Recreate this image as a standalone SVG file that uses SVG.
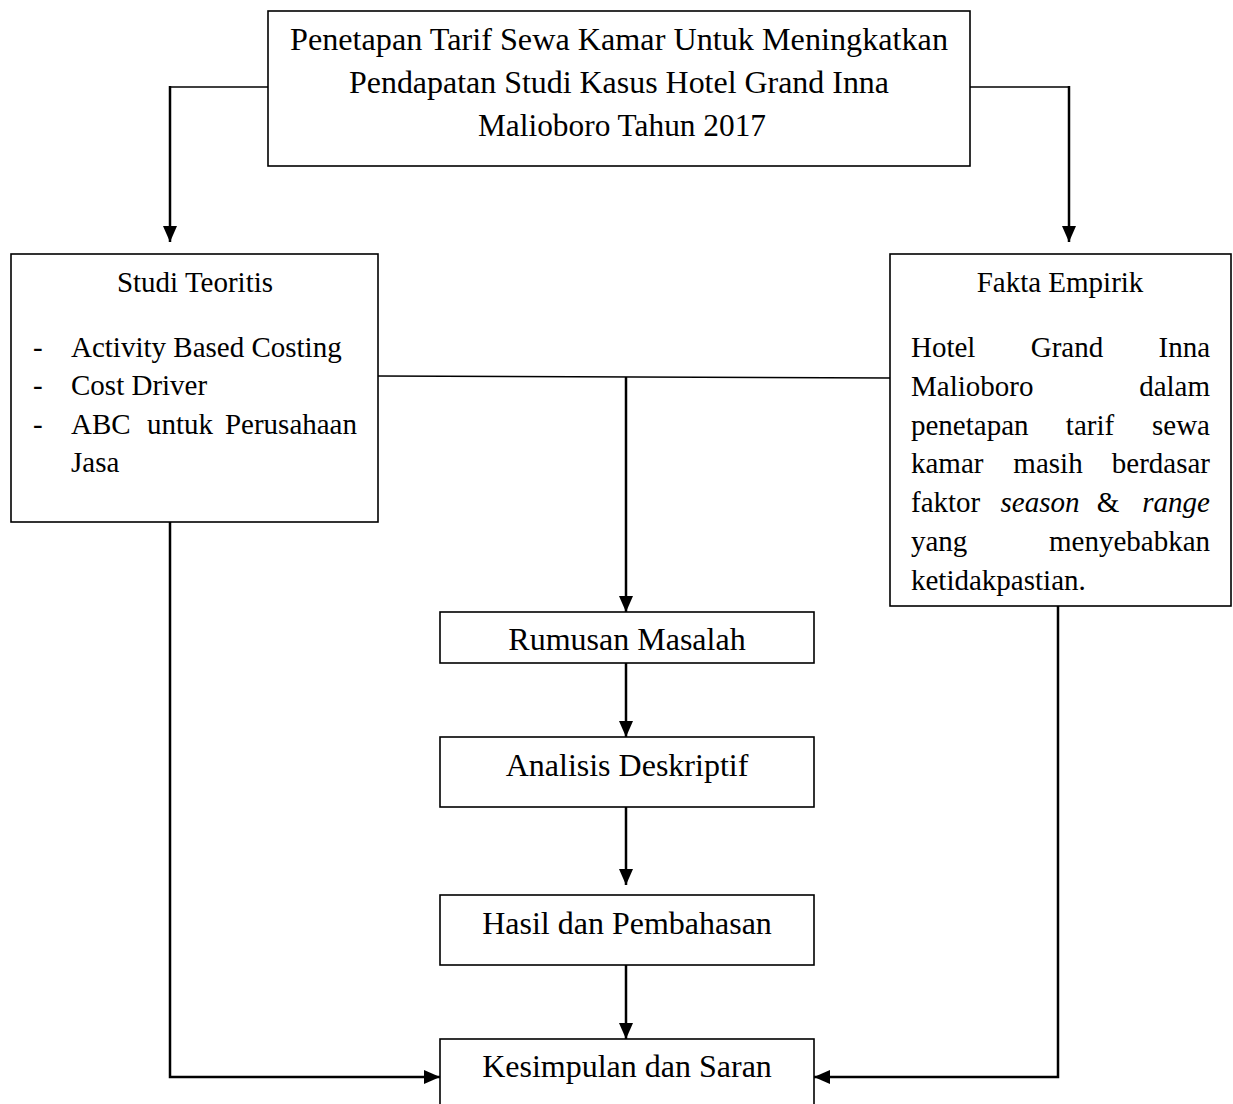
<svg xmlns="http://www.w3.org/2000/svg" width="1233" height="1104" viewBox="0 0 1233 1104">
<style>
  .box { fill: #fff; stroke: #000; stroke-width: 1.6; }
  .t { font-family: "Liberation Serif", "Times New Roman", serif; fill: #000; }
  .t32 { font-size: 32px; }
  .t29 { font-size: 29px; }
  .mid { text-anchor: middle; }
  .end { text-anchor: end; }
  .it { font-style: italic; }
  .ln { fill: none; stroke: #000; stroke-width: 2.5; }
  .thin { fill: none; stroke: #000; stroke-width: 1.6; }
</style>
<defs>
  <marker id="ah" markerWidth="12" markerHeight="12" viewBox="0 0 12 12" refX="12" refY="6" orient="auto" markerUnits="userSpaceOnUse">
    <path d="M0,0 L12,6 L0,12 Z" fill="#000"/>
  </marker>
  <marker id="ahb" markerWidth="16" markerHeight="14" viewBox="0 0 16 14" refX="16" refY="7" orient="auto" markerUnits="userSpaceOnUse">
    <path d="M0,0 L16,7 L0,14 Z" fill="#000"/>
  </marker>
</defs>
<rect width="1233" height="1104" fill="#fff"/>

<g id="connectors">
  <polyline class="thin" points="268,87 170,87"/>
  <line class="ln" x1="170" y1="86" x2="170" y2="242" marker-end="url(#ahb)"/>
  <polyline class="thin" points="970,87 1069,87"/>
  <line class="ln" x1="1069" y1="86" x2="1069" y2="242" marker-end="url(#ahb)"/>
  <line class="thin" x1="378" y1="376" x2="890" y2="378"/>
  <line class="ln" x1="626" y1="377" x2="626" y2="612" marker-end="url(#ahb)"/>
  <line class="ln" x1="626" y1="663" x2="626" y2="737" marker-end="url(#ahb)"/>
  <line class="ln" x1="626" y1="807" x2="626" y2="885" marker-end="url(#ahb)"/>
  <line class="ln" x1="626" y1="965" x2="626" y2="1039" marker-end="url(#ahb)"/>
  <polyline class="ln" points="170,522 170,1077 440,1077" marker-end="url(#ahb)"/>
  <polyline class="ln" points="1058,606 1058,1077 814,1077" marker-end="url(#ahb)"/>
</g>

<g id="node-judul">
  <rect class="box" x="268" y="11" width="702" height="155"/>
  <text class="t t32 mid" x="619" y="50" textLength="658" lengthAdjust="spacingAndGlyphs">Penetapan Tarif Sewa Kamar Untuk Meningkatkan</text>
  <text class="t t32 mid" x="619" y="93" textLength="540" lengthAdjust="spacingAndGlyphs">Pendapatan Studi Kasus Hotel Grand Inna</text>
  <text class="t t32 mid" x="622" y="136" textLength="288" lengthAdjust="spacingAndGlyphs">Malioboro Tahun 2017</text>
</g>

<g id="node-studi-teoritis">
  <rect class="box" x="11" y="254" width="367" height="268"/>
  <text class="t t29 mid" x="195" y="292">Studi Teoritis</text>
  <text class="t t29" x="33" y="357">-</text>
  <text class="t t29" x="71" y="357">Activity Based Costing</text>
  <text class="t t29" x="33" y="395">-</text>
  <text class="t t29" x="71" y="395">Cost Driver</text>
  <text class="t t29" x="33" y="434">-</text>
  <text class="t t29" x="71" y="434">ABC</text>
  <text class="t t29 mid" x="180" y="434">untuk</text>
  <text class="t t29 end" x="357" y="434">Perusahaan</text>
  <text class="t t29" x="71" y="472">Jasa</text>
</g>

<g id="node-fakta-empirik">
  <rect class="box" x="890" y="254" width="341" height="352"/>
  <text class="t t29 mid" x="1060" y="292">Fakta Empirik</text>
  <text class="t t29" x="911" y="357">Hotel</text>
  <text class="t t29 mid" x="1067" y="357">Grand</text>
  <text class="t t29 end" x="1210" y="357">Inna</text>
  <text class="t t29" x="911" y="396">Malioboro</text>
  <text class="t t29 end" x="1210" y="396">dalam</text>
  <text class="t t29" x="911" y="435">penetapan</text>
  <text class="t t29 mid" x="1090" y="435">tarif</text>
  <text class="t t29 end" x="1210" y="435">sewa</text>
  <text class="t t29" x="911" y="473">kamar</text>
  <text class="t t29 mid" x="1048" y="473">masih</text>
  <text class="t t29 end" x="1210" y="473">berdasar</text>
  <text class="t t29" x="911" y="512">faktor</text>
  <text class="t t29 it mid" x="1040" y="512">season</text>
  <text class="t t29 mid" x="1108" y="512">&amp;</text>
  <text class="t t29 it end" x="1210" y="512">range</text>
  <text class="t t29" x="911" y="551">yang</text>
  <text class="t t29 end" x="1210" y="551">menyebabkan</text>
  <text class="t t29" x="911" y="590">ketidakpastian.</text>
</g>

<g id="node-rumusan">
  <rect class="box" x="440" y="612" width="374" height="51"/>
  <text class="t t32 mid" x="627" y="650">Rumusan Masalah</text>
</g>
<g id="node-analisis">
  <rect class="box" x="440" y="737" width="374" height="70"/>
  <text class="t t32 mid" x="627" y="776">Analisis Deskriptif</text>
</g>
<g id="node-hasil">
  <rect class="box" x="440" y="895" width="374" height="70"/>
  <text class="t t32 mid" x="627" y="934">Hasil dan Pembahasan</text>
</g>
<g id="node-kesimpulan">
  <rect class="box" x="440" y="1039" width="374" height="80"/>
  <text class="t t32 mid" x="627" y="1077">Kesimpulan dan Saran</text>
</g>
</svg>
